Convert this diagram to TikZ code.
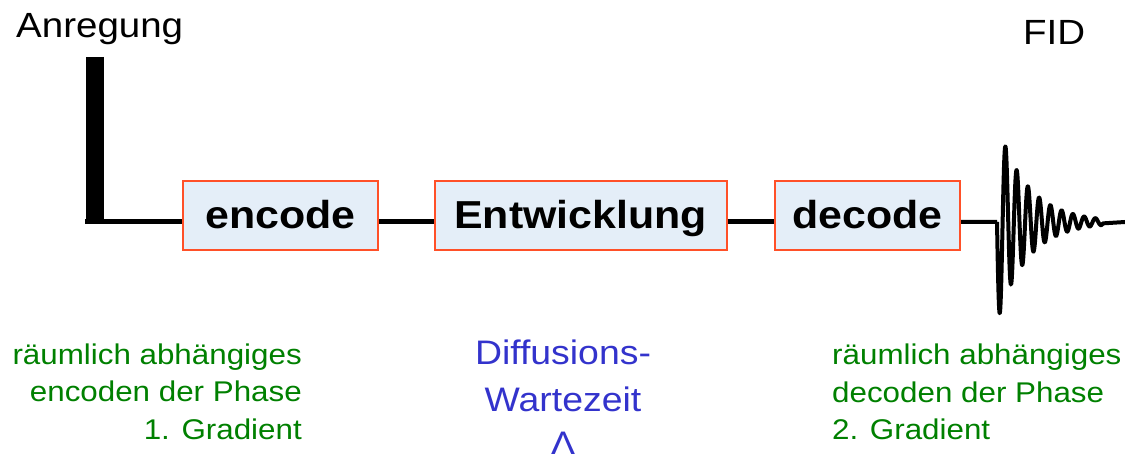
\documentclass[tikz,border=0pt]{standalone}
\usepackage{fontspec}
\setmainfont[FakeStretch=1.1]{Liberation Sans}
\definecolor{boxfill}{RGB}{228,238,248}
\definecolor{boxedge}{RGB}{255,80,40}
\definecolor{gtext}{RGB}{0,128,0}
\definecolor{btext}{RGB}{51,51,204}
\tikzset{
  seqbox/.style={draw=boxedge, line width=2pt, fill=boxfill, inner sep=0pt,
    minimum height=69pt, text height=27pt, text depth=0pt,
    font=\fontsize{39}{44}\selectfont\bfseries},
  wire/.style={line width=5pt},
  greenline/.style={text=gtext, inner sep=0pt, font=\fontsize{28.5}{34}\selectfont},
  blueline/.style={text=btext, inner sep=0pt, font=\fontsize{34}{40}\selectfont},
  headline/.style={inner sep=0pt, anchor=base west}
}
\begin{document}
\begin{tikzpicture}[x=1pt,y=1pt]
\useasboundingbox (0,0) rectangle (1125,454);

% excitation pulse and time axis
\coordinate (bartop) at (95,397);
\coordinate (barbot) at (95,229.5);
\coordinate (base) at (85,232);
\draw[line width=18pt] (bartop) -- (barbot);

% sequence blocks
\node[seqbox, minimum width=195pt] (enc) at (280.5,238.5) {encode};
\node[seqbox, minimum width=292pt] (ent) at (580.5,238.5) {Entwicklung};
\node[seqbox, minimum width=185pt] (dec) at (867.5,238.5) {decode};

\draw[wire] (base) -- (base -| enc.west);
\draw[wire] (base -| enc.east) -- (base -| ent.west);
\draw[wire] (base -| ent.east) -- (base -| dec.west);

% free induction decay: damped oscillation, t in pixels after onset
\coordinate (fidstart) at (997,232);
\coordinate (fidend) at (1125,232);
\draw[line width=4pt, line join=round]
  (base -| dec.east) -- (fidstart)
  plot[domain=0:106, samples=400]
    ({997+\x}, {232 - 100*exp(-\x/30)*sin(32*\x)})
  -- (fidend);

% headings
\node[headline, font=\fontsize{35}{40}\selectfont] (anr) at (16,416) {Anregung};
\node[headline, font=\fontsize{35}{40}\selectfont] (fid) at (1023,409) {FID};

% first gradient note
\node[greenline, anchor=base east] (g1a) at (302,89) {räumlich abhängiges};
\node[greenline, anchor=base east] (g1b) at (302,52) {encoden der Phase};
\node[greenline, anchor=base east] (g1c) at (302,14) {1. Gradient};

% diffusion time note
\node[blueline, anchor=base] (d1) at (563,89) {Diffusions-};
\node[blueline, anchor=base] (d2) at (563,42) {Wartezeit};
\node[blueline, anchor=base] (d3) at (563,-2) {Λ};

% second gradient note
\node[greenline, anchor=base west] (g2a) at (832,89) {räumlich abhängiges};
\node[greenline, anchor=base west] (g2b) at (832,51) {decoden der Phase};
\node[greenline, anchor=base west] (g2c) at (832,14) {2. Gradient};
\end{tikzpicture}
\end{document}
